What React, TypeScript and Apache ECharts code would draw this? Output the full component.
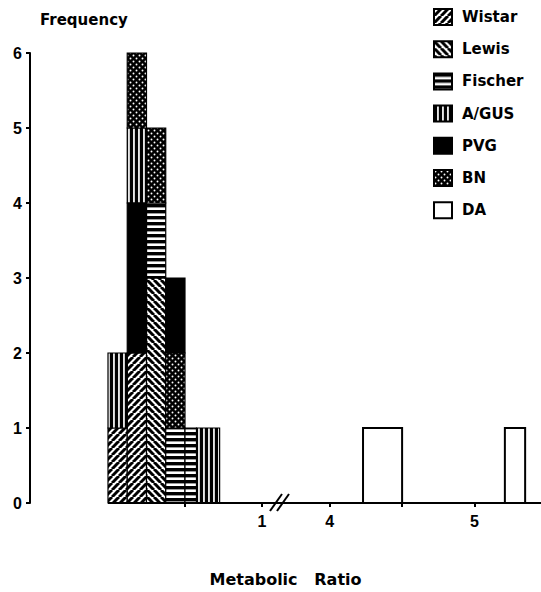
import React, { useEffect, useRef } from "react";
import * as echarts from "echarts";

const strains = ["Wistar", "Lewis", "Fischer", "A/GUS", "PVG", "BN", "DA"];
// histogram bins (metabolic ratio ranges)
const binRanges: [number, number][] = [
  [0, 0.125],
  [0.125, 0.25],
  [0.25, 0.375],
  [0.375, 0.5],
  [0.5, 0.575],
  [0.575, 0.725],
  [4.23, 4.5],
  [5.21, 5.35],
];
// per bin: strains stacked bottom -> top with their counts
const binStacks: [string, number][][] = [
  [["Wistar", 1], ["A/GUS", 1]],
  [["Wistar", 2], ["PVG", 2], ["A/GUS", 1], ["BN", 1]],
  [["Lewis", 3], ["Fischer", 1], ["BN", 1]],
  [["Fischer", 1], ["BN", 1], ["PVG", 1]],
  [["Fischer", 1]],
  [["A/GUS", 1]],
  [["DA", 1]],
  [["DA", 1]],
];
const xLabelRatios = [1, 4, 5];
const xTickRatios = [0.5, 1, 4, 4.5, 5];

// broken axis: ratios 0..1 on the left, 4..5.5 on the right
const BREAK_GAP = 0.44;
const RIGHT_SCALE = 0.94;
const toAxis = (r: number) => (r <= 2 ? r : 1 + BREAK_GAP + (r - 4) * RIGHT_SCALE);
const fromAxis = (v: number) => (v <= 1.2 ? v : 4 + (v - 1 - BREAK_GAP) / RIGHT_SCALE);
const X_MIN = -0.5065;
const X_MAX = 2.812;

const WORD_FONT = "DejaVu Sans";
const NUM_FONT = "Liberation Sans";

function makePattern(w: number, h: number, draw: (ctx: CanvasRenderingContext2D) => void) {
  const c = document.createElement("canvas");
  c.width = w;
  c.height = h;
  const ctx = c.getContext("2d") as CanvasRenderingContext2D;
  draw(ctx);
  return { image: c.toDataURL(), repeat: "repeat", imageWidth: w, imageHeight: h };
}

function buildPatterns(): Record<string, any> {
  const diag = (dir: number) =>
    makePattern(7, 7, (ctx) => {
      ctx.fillStyle = "#fff";
      ctx.fillRect(0, 0, 7, 7);
      ctx.strokeStyle = "#000";
      ctx.lineWidth = 3;
      for (let k = -1; k <= 1; k++) {
        ctx.beginPath();
        if (dir > 0) {
          ctx.moveTo(k * 7, 7);
          ctx.lineTo(k * 7 + 7, 0);
        } else {
          ctx.moveTo(k * 7, 0);
          ctx.lineTo(k * 7 + 7, 7);
        }
        ctx.stroke();
      }
    });
  return {
    Wistar: diag(1),
    Lewis: diag(-1),
    Fischer: makePattern(6, 6, (ctx) => {
      ctx.fillStyle = "#fff";
      ctx.fillRect(0, 0, 6, 6);
      ctx.fillStyle = "#000";
      ctx.fillRect(0, 0, 6, 3.4);
    }),
    "A/GUS": makePattern(5, 5, (ctx) => {
      ctx.fillStyle = "#000";
      ctx.fillRect(0, 0, 5, 5);
      ctx.fillStyle = "#fff";
      ctx.fillRect(3.1, 0, 1.7, 5);
    }),
    PVG: "#000",
    BN: makePattern(6, 6, (ctx) => {
      ctx.fillStyle = "#000";
      ctx.fillRect(0, 0, 6, 6);
      ctx.fillStyle = "#fff";
      ctx.beginPath();
      ctx.arc(1.5, 1.5, 0.95, 0, Math.PI * 2);
      ctx.fill();
      ctx.beginPath();
      ctx.arc(4.5, 4.5, 0.95, 0, Math.PI * 2);
      ctx.fill();
    }),
    DA: "#fff",
  };
}

export default function App() {
  const ref = useRef<HTMLDivElement>(null);

  useEffect(() => {
    if (!ref.current) return;
    const chart = echarts.init(ref.current, undefined, { renderer: "svg" });
    const patterns = buildPatterns();

    const dataByStrain: Record<string, number[][]> = {};
    strains.forEach((s) => (dataByStrain[s] = []));
    binRanges.forEach(([lo, hi], i) => {
      let base = 0;
      binStacks[i].forEach(([s, n]) => {
        dataByStrain[s].push([toAxis(lo), toAxis(hi), base, base + n]);
        base += n;
      });
    });

    const barSeries = strains.map((s) => ({
      name: s,
      type: "custom",
      encode: { x: [0, 1], y: [2, 3] },
      itemStyle: {
        color: patterns[s],
        borderColor: "#000",
        borderWidth: s === "DA" ? 2 : 1.2,
      },
      renderItem: (params: any, api: any) => {
        const a = api.coord([api.value(0), api.value(2)]);
        const b = api.coord([api.value(1), api.value(3)]);
        return {
          type: "rect",
          shape: { x: a[0], y: b[1], width: b[0] - a[0], height: a[1] - b[1] },
          style: {
            fill: patterns[s],
            stroke: "#000",
            lineWidth: s === "DA" ? 2 : 1.2,
          },
        };
      },
      data: dataByStrain[s],
    }));

    const numLabel = {
      fontFamily: NUM_FONT,
      fontWeight: "bold",
      fontSize: 16,
      color: "#000",
    };

    chart.setOption({
      animation: false,
      backgroundColor: "#fff",
      title: {
        text: "Frequency",
        left: 35,
        top: 7,
        textStyle: { fontFamily: WORD_FONT, fontWeight: "bold", fontSize: 15, color: "#000" },
      },
      legend: {
        data: strains,
        orient: "vertical",
        left: 433,
        top: 8,
        padding: 0,
        icon: "rect",
        itemWidth: 18,
        itemHeight: 16,
        itemGap: 14.2,
        selectedMode: false,
        textStyle: {
          fontFamily: WORD_FONT,
          fontWeight: "bold",
          fontSize: 15,
          lineHeight: 16,
          color: "#000",
          padding: [0, 0, 0, 5],
        },
      },
      grid: { left: 30, right: 0, top: 53, bottom: 89, containLabel: false, outerBoundsMode: "none" },
      xAxis: {
        type: "value",
        min: X_MIN,
        max: X_MAX,
        name: "Metabolic   Ratio",
        nameLocation: "middle",
        nameGap: 68,
        nameTextStyle: { fontFamily: WORD_FONT, fontWeight: "bold", fontSize: 16, color: "#000" },
        axisLine: { show: false, onZero: false },
        splitLine: { show: false },
        axisTick: {
          show: true,
          customValues: xTickRatios.map(toAxis),
          length: 4,
          lineStyle: { color: "#000", width: 2 },
        },
        axisLabel: {
          ...numLabel,
          customValues: xLabelRatios.map(toAxis),
          margin: 10,
          formatter: (v: number) => String(Math.round(fromAxis(v))),
        },
      },
      yAxis: {
        type: "value",
        min: 0,
        max: 6,
        interval: 1,
        axisLine: { show: true, onZero: false, lineStyle: { color: "#000", width: 2 } },
        axisTick: { show: true, length: 4, lineStyle: { color: "#000", width: 2 } },
        splitLine: { show: false },
        axisLabel: { ...numLabel, margin: 8 },
      },
      series: [
        ...barSeries,
        {
          name: "baseline",
          type: "line",
          data: [
            [toAxis(0), 0],
            [X_MAX, 0],
          ],
          symbol: "none",
          silent: true,
          z: 5,
          lineStyle: { color: "#000", width: 2 },
        },
      ],
      graphic: [
        { type: "line", shape: { x1: 270, y1: 511, x2: 282, y2: 494 }, style: { stroke: "#000", lineWidth: 2 } },
        { type: "line", shape: { x1: 277, y1: 511, x2: 289, y2: 494 }, style: { stroke: "#000", lineWidth: 2 } },
      ],
    });

    return () => chart.dispose();
  }, []);

  return <div ref={ref} style={{ width: 541, height: 592, position: "absolute", left: 0, top: 0 }} />;
}
